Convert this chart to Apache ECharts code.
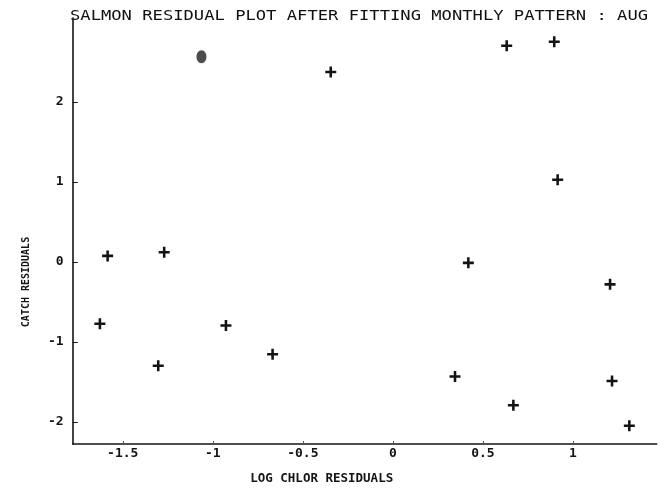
<!DOCTYPE html>
<html>
<head>
<meta charset="utf-8">
<script src="https://cdn.jsdelivr.net/npm/echarts@6/dist/echarts.min.js"></script>
<style>
  html, body { margin: 0; padding: 0; background: #ffffff; }
  #chart { width: 667px; height: 490px; }
</style>
</head>
<body>
<div id="chart"></div>
<script>
// Labels
const titleText = 'SALMON RESIDUAL PLOT AFTER FITTING MONTHLY PATTERN : AUG';
const xName = 'LOG CHLOR RESIDUALS';
const yName = 'CATCH RESIDUALS';

// Tick positions
const xTicks = [-1.5, -1, -0.5, 0, 0.5, 1];
const yTicks = [-2, -1, 0, 1, 2];

// Residual pairs (log chlorophyll residual, catch residual)
const chlorResid = [-1.584, -1.270, -1.627, -0.927, -1.303, -0.668, -0.345, 0.419,
                    0.345, 0.669, 0.632, 0.896, 0.915, 1.206, 1.217, 1.313];
const catchResid = [0.077, 0.122, -0.772, -0.792, -1.297, -1.152, 2.374, -0.010,
                    -1.430, -1.790, 2.704, 2.754, 1.028, -0.279, -1.487, -2.046];

// Several coincident observations plotted on top of each other
const clusterChlor = [-1.063];
const clusterCatch = [2.567];

const points = chlorResid.map((x, i) => [x, catchResid[i]]);
const cluster = clusterChlor.map((x, i) => [x, clusterCatch[i]]);

const ink = '#141414';
const plusPath = 'path://M4.6,0H7.4V4.6H12V7.4H7.4V12H4.6V7.4H0V4.6H4.6Z';
const clusterPath = 'path://M5,0C8,0 10,3 10,6.5C10,10 8,13 5,13C2,13 0,10 0,6.5C0,3 2,0 5,0Z';
const mono = '"DejaVu Sans Mono", "Liberation Mono", monospace';

const chart = echarts.init(document.getElementById('chart'), null, { renderer: 'canvas' });

chart.setOption({
  animation: false,
  backgroundColor: '#ffffff',
  graphic: [{
    type: 'text',
    x: 70,
    y: 9.5,
    scaleX: 1.27,
    style: {
      text: titleText,
      font: '13.5px ' + mono,
      fill: '#111111',
      verticalAlign: 'top',
      align: 'left'
    }
  }],
  grid: { left: 72.7, right: 10.3, top: 18, bottom: 43.3, containLabel: false },
  xAxis: {
    type: 'value',
    min: -1.778,
    max: 1.465,
    name: xName,
    nameLocation: 'middle',
    nameGap: 28,
    nameTextStyle: {
      fontFamily: mono, fontSize: 12.5, fontWeight: 'bold', color: ink,
      padding: [0, 86, 0, 0]
    },
    axisLine: { show: true, onZero: false, lineStyle: { color: ink, width: 1.6 } },
    axisTick: { show: true, inside: true, length: 3, customValues: xTicks,
                lineStyle: { color: '#555555', width: 1 } },
    axisLabel: {
      customValues: xTicks, margin: 3,
      fontFamily: mono, fontSize: 13, fontWeight: 'bold', color: ink,
      formatter: v => String(v)
    },
    splitLine: { show: false }
  },
  yAxis: {
    type: 'value',
    min: -2.274,
    max: 3.05,
    name: yName,
    nameLocation: 'middle',
    nameGap: 41,
    nameTextStyle: {
      fontFamily: mono, fontSize: 10, fontWeight: 'bold', color: ink,
      padding: [0, 102, 0, 0]
    },
    axisLine: { show: true, onZero: false, lineStyle: { color: ink, width: 1.6 } },
    axisTick: { show: true, inside: true, length: 5, customValues: yTicks,
                lineStyle: { color: ink, width: 1 } },
    axisLabel: {
      customValues: yTicks, margin: 9,
      fontFamily: mono, fontSize: 13, fontWeight: 'bold', color: ink,
      formatter: v => String(v)
    },
    splitLine: { show: false }
  },
  series: [
    {
      name: 'residuals',
      type: 'scatter',
      data: points,
      symbol: plusPath,
      symbolSize: 11,
      itemStyle: { color: ink, opacity: 1 }
    },
    {
      name: 'coincident',
      type: 'scatter',
      data: cluster,
      symbol: clusterPath,
      symbolSize: [10, 13],
      itemStyle: { color: '#3a3a3a', opacity: 0.9 }
    }
  ]
});
</script>
</body>
</html>
